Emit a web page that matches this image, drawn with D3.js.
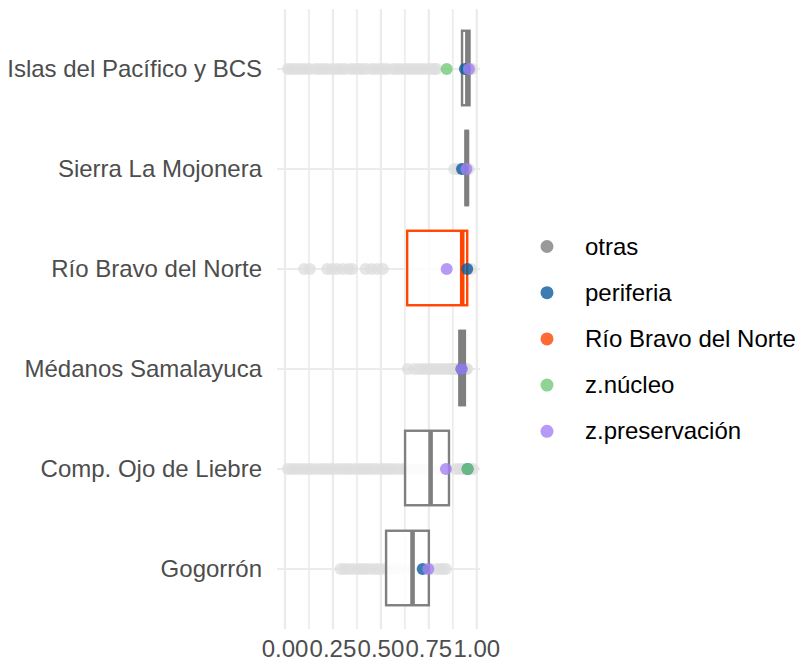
<!DOCTYPE html>
<html>
<head>
<meta charset="utf-8">
<script src="https://cdn.jsdelivr.net/npm/d3@7"></script>
<style>
  html, body { margin: 0; padding: 0; background: #ffffff; }
  svg { display: block; font-family: "Liberation Sans", Arial, Helvetica, sans-serif; }
</style>
</head>
<body>
<svg id="chart" width="795" height="664"></svg>
<script>
// ---------------- DATA ----------------
const categories = ["Islas del Pacífico y BCS", "Sierra La Mojonera", "Río Bravo del Norte",
                    "Médanos Samalayuca", "Comp. Ojo de Liebre", "Gogorrón"];
const boxGroup = ["otras", "otras", "Río Bravo del Norte", "otras", "otras", "otras"];
const q1     = [0.923, 0.941, 0.637, 0.909, 0.626, 0.527];
const median = [0.951, 0.948, 0.924, 0.923, 0.759, 0.665];
const q3     = [0.962, 0.954, 0.950, 0.938, 0.855, 0.750];

const otrasIslas = [0.015, 0.03, 0.05, 0.07, 0.09, 0.11, 0.13, 0.16, 0.18, 0.20, 0.22, 0.245, 0.27, 0.29, 0.31,
                    0.34, 0.36, 0.38, 0.40, 0.42, 0.45, 0.47, 0.49, 0.51, 0.53, 0.56, 0.58, 0.60, 0.62, 0.64,
                    0.66, 0.68, 0.70, 0.72, 0.74, 0.76, 0.78, 0.79, 0.97, 0.975];
const otrasSierra = [0.882, 0.90, 0.92, 0.935, 0.95, 0.958];
const otrasRioBravo = [0.10, 0.13, 0.22, 0.245, 0.27, 0.30, 0.33, 0.35, 0.42, 0.45, 0.48, 0.51, 0.97];
const otrasMedanos = [0.64, 0.675, 0.70, 0.72, 0.74, 0.76, 0.78, 0.80, 0.82, 0.84, 0.86, 0.87, 0.88, 0.89,
                      0.90, 0.91, 0.925, 0.935, 0.945, 0.95];
const otrasOjo = [0.015, 0.035, 0.055, 0.075, 0.10, 0.12, 0.14, 0.165, 0.19, 0.21, 0.23, 0.25, 0.275, 0.30,
                  0.32, 0.34, 0.365, 0.39, 0.41, 0.43, 0.45, 0.475, 0.50, 0.52, 0.54, 0.56, 0.585, 0.61, 0.63,
                  0.66, 0.70, 0.75, 0.80, 0.89, 0.91, 0.93, 0.95, 0.965, 0.98];
const otrasGogorron = [0.29, 0.31, 0.33, 0.355, 0.38, 0.40, 0.42, 0.445, 0.47, 0.49, 0.52, 0.56, 0.60, 0.65,
                       0.70, 0.76, 0.79, 0.81, 0.825, 0.84];
const otrasValues = [otrasIslas, otrasSierra, otrasRioBravo, otrasMedanos, otrasOjo, otrasGogorron];

const periferia      = [0.938, 0.923, 0.950, 0.920, 0.952, 0.718];
const zNucleo        = [0.843, null, null, null, 0.952, null];
const zPreservacion  = [0.959, 0.946, 0.843, 0.921, 0.839, 0.747];

const legendLabels = ["otras", "periferia", "Río Bravo del Norte", "z.núcleo", "z.preservación"];
const legendColors = ["#7F7F7F", "#0A5CA0", "#FF4500", "#73C97A", "#A581F2"];
const xTicks = [0, 0.25, 0.5, 0.75, 1];
const xMinor = [0.125, 0.375, 0.625, 0.875];

// ---------------- LAYOUT ----------------
const svg = d3.select("#chart");
const panel = { left: 277, right: 480, top: 9, bottom: 629 };
const x = d3.scaleLinear().domain([0, 1]).range([285, 476.8]);
const y = d3.scalePoint().domain(categories).range([panel.top, panel.bottom]).padding(0.6);
const step = y.step();
const color = d3.scaleOrdinal().domain(legendLabels).range(legendColors);
const fontSize = 24;

// gridlines
const grid = svg.append("g");
grid.selectAll("line.minor").data(xMinor).join("line")
  .attr("x1", d => x(d)).attr("x2", d => x(d))
  .attr("y1", panel.top).attr("y2", panel.bottom)
  .attr("stroke", "#EBEBEB").attr("stroke-width", 1.6);
grid.selectAll("line.majx").data(xTicks).join("line")
  .attr("x1", d => x(d)).attr("x2", d => x(d))
  .attr("y1", panel.top).attr("y2", panel.bottom)
  .attr("stroke", "#EBEBEB").attr("stroke-width", 2.2);
grid.selectAll("line.majy").data(categories).join("line")
  .attr("x1", panel.left).attr("x2", panel.right)
  .attr("y1", d => y(d)).attr("y2", d => y(d))
  .attr("stroke", "#EBEBEB").attr("stroke-width", 2.2);

// gray points (otras)
const r = 6;
const otrasPts = [];
otrasValues.forEach((vals, i) => vals.forEach(v => otrasPts.push({ cat: categories[i], v })));
svg.append("g").selectAll("circle").data(otrasPts).join("circle")
  .attr("cx", d => x(d.v)).attr("cy", d => y(d.cat)).attr("r", r)
  .attr("fill", "#DEDEDE").attr("fill-opacity", 0.75);

// boxes
const boxH = step * 0.745;
const boxes = svg.append("g");
categories.forEach((c, i) => {
  const col = color(boxGroup[i]);
  boxes.append("rect")
    .attr("x", x(q1[i])).attr("y", y(c) - 1 - boxH / 2)
    .attr("width", x(q3[i]) - x(q1[i])).attr("height", boxH)
    .attr("fill", "#ffffff").attr("fill-opacity", 0.85)
    .attr("stroke", col).attr("stroke-width", 2.4);
  boxes.append("line")
    .attr("x1", x(median[i])).attr("x2", x(median[i]))
    .attr("y1", y(c) - 1 - boxH / 2).attr("y2", y(c) - 1 + boxH / 2)
    .attr("stroke", col).attr("stroke-width", 4.6);
});

// coloured points
const series = [
  { name: "periferia", vals: periferia },
  { name: "z.núcleo", vals: zNucleo },
  { name: "z.preservación", vals: zPreservacion }
];
series.forEach(s => {
  const pts = s.vals.map((v, i) => ({ v, cat: categories[i] })).filter(d => d.v !== null);
  svg.append("g").selectAll("circle").data(pts).join("circle")
    .attr("cx", d => x(d.v)).attr("cy", d => y(d.cat)).attr("r", r)
    .attr("fill", color(s.name)).attr("fill-opacity", 0.8);
});

// y axis labels
svg.append("g").selectAll("text").data(categories).join("text")
  .attr("x", 262).attr("y", d => y(d) + 8)
  .attr("text-anchor", "end").attr("font-size", fontSize).attr("fill", "#4D4D4D")
  .text(d => d);

// x axis labels
svg.append("g").selectAll("text").data(xTicks).join("text")
  .attr("x", d => x(d)).attr("y", 657)
  .attr("text-anchor", "middle").attr("font-size", fontSize).attr("fill", "#4D4D4D")
  .text(d => d3.format(".2f")(d));

// legend
const lg = svg.append("g");
legendLabels.forEach((lab, i) => {
  const cy = 246.5 + i * 46.2;
  lg.append("circle").attr("cx", 547).attr("cy", cy).attr("r", 6.5)
    .attr("fill", color(lab)).attr("fill-opacity", 0.8);
  lg.append("text").attr("x", 585).attr("y", cy + 8)
    .attr("font-size", fontSize).attr("fill", "#000000").text(lab);
});
</script>
</body>
</html>
